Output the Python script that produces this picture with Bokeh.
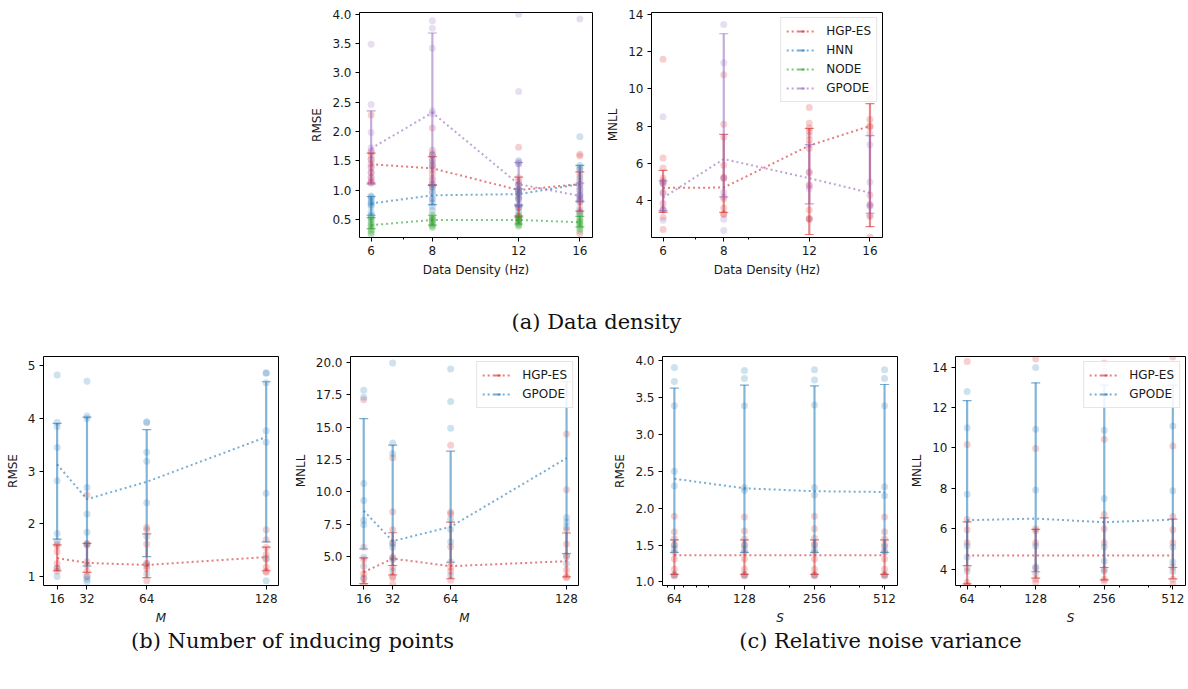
import numpy as np
from bokeh.plotting import figure
from bokeh.models import (Range1d, FixedTicker, PrintfTickFormatter, Whisker, TeeHead,
                          ColumnDataSource, Legend, LegendItem, Label, Spacer)
from bokeh.layouts import row, column
from bokeh.embed import file_html
from bokeh.resources import INLINE

RED = "#d62728"
BLUE = "#1f77b4"
GREEN = "#2ca02c"
PURPLE = "#9467bd"

# ---------------- x categories ----------------
density = [6, 8, 12, 16]
inducing = [16, 32, 64, 128]
samples = [64, 128, 256, 512]

# ---------------- (a) data density : RMSE ----------------
a_rmse_hgp_mean = [1.44, 1.37, 1.00, 1.10]
a_rmse_hgp_lo = [1.12, 1.09, 0.54, 0.64]
a_rmse_hgp_hi = [1.63, 1.57, 1.22, 1.31]
a_rmse_hgp_pts = [[2.28, 1.65, 1.60, 1.52, 1.45, 1.38, 1.30, 1.22, 1.15, 1.12],
                  [2.06, 1.68, 1.60, 1.50, 1.42, 1.35, 1.28, 1.17, 1.10, 1.05],
                  [1.73, 1.21, 1.15, 1.08, 1.00, 0.95, 0.85, 0.70, 0.55, 0.50],
                  [1.61, 1.58, 1.35, 1.25, 1.15, 1.05, 0.90, 0.80, 0.62, 0.26]]
a_rmse_hnn_mean = [0.77, 0.91, 0.93, 1.10]
a_rmse_hnn_lo = [0.57, 0.75, 0.73, 0.80]
a_rmse_hnn_hi = [0.89, 1.08, 1.02, 1.42]
a_rmse_hnn_pts = [[0.90, 0.88, 0.85, 0.80, 0.78, 0.75, 0.72, 0.62, 0.57, 0.52],
                  [1.60, 1.52, 1.40, 1.10, 1.05, 0.95, 0.85, 0.78, 0.72, 0.65],
                  [1.50, 1.45, 1.10, 1.00, 0.95, 0.90, 0.85, 0.75, 0.70, 0.62],
                  [1.91, 1.42, 1.38, 1.20, 1.10, 1.00, 0.92, 0.85, 0.65, 0.60]]
a_rmse_node_mean = [0.40, 0.49, 0.49, 0.45]
a_rmse_node_lo = [0.34, 0.40, 0.42, 0.37]
a_rmse_node_hi = [0.53, 0.57, 0.56, 0.55]
a_rmse_node_pts = [[0.55, 0.50, 0.46, 0.42, 0.40, 0.37, 0.33, 0.30, 0.27, 0.24],
                   [0.58, 0.55, 0.52, 0.50, 0.48, 0.46, 0.43, 0.40, 0.38, 0.36],
                   [0.58, 0.55, 0.52, 0.50, 0.48, 0.46, 0.44, 0.42, 0.40, 0.38],
                   [0.58, 0.53, 0.50, 0.47, 0.45, 0.43, 0.40, 0.37, 0.34, 0.30]]
a_rmse_gpode_mean = [1.71, 2.32, 1.10, 0.90]
a_rmse_gpode_lo = [1.10, 1.08, 0.75, 0.81]
a_rmse_gpode_hi = [2.35, 3.68, 1.47, 1.12]
a_rmse_gpode_pts = [[3.49, 2.46, 1.98, 1.72, 1.66, 1.52, 1.40, 1.30, 1.20, 1.12],
                    [3.89, 3.76, 3.42, 2.35, 2.30, 1.62, 1.45, 1.20, 0.98, 0.85],
                    [4.00, 2.68, 1.48, 1.45, 1.10, 1.00, 0.95, 0.85, 0.75, 0.70],
                    [3.92, 1.30, 1.10, 1.00, 0.95, 0.90, 0.85, 0.82, 0.80, 0.70]]

# ---------------- (a) data density : MNLL ----------------
a_mnll_hgp_mean = [4.68, 4.70, 6.95, 8.00]
a_mnll_hgp_lo = [3.37, 3.37, 2.18, 2.60]
a_mnll_hgp_hi = [5.62, 7.55, 7.87, 9.20]
a_mnll_hgp_pts = [[11.58, 6.28, 5.75, 5.20, 5.00, 4.90, 4.40, 3.85, 3.50, 3.10, 2.45],
                  [10.75, 8.10, 7.40, 5.90, 5.25, 5.20, 4.10, 3.60, 3.30, 3.25],
                  [9.00, 8.15, 7.90, 7.70, 7.25, 6.80, 5.50, 4.80, 3.50, 3.05, 3.00],
                  [10.00, 9.50, 8.35, 8.00, 7.95, 4.30, 3.75, 3.20, 2.05]]
a_mnll_gpode_mean = [4.15, 6.23, 5.20, 4.42]
a_mnll_gpode_lo = [3.46, 4.20, 3.82, 3.32]
a_mnll_gpode_hi = [5.06, 12.95, 7.00, 7.48]
a_mnll_gpode_pts = [[8.50, 5.05, 4.95, 4.45, 3.55, 3.50, 2.95],
                    [13.45, 11.40, 5.20, 4.45, 4.20, 3.00, 2.40],
                    [7.50, 7.00, 5.55, 4.85, 4.65, 3.00],
                    [7.60, 7.00, 5.00, 3.80, 3.70, 3.15]]

# ---------------- (b) inducing points : RMSE ----------------
b_rmse_hgp_mean = [1.35, 1.26, 1.22, 1.37]
b_rmse_hgp_lo = [1.11, 1.08, 0.98, 1.11]
b_rmse_hgp_hi = [1.60, 1.63, 1.81, 1.56]
b_rmse_hgp_pts = [[1.62, 1.58, 1.47, 1.25, 1.16, 1.10],
                  [2.55, 1.63, 1.60, 1.28, 1.22, 1.10, 1.00],
                  [1.93, 1.89, 1.62, 1.25, 1.20, 1.15, 0.92],
                  [1.89, 1.70, 1.55, 1.42, 1.33, 1.18, 1.10, 1.08]]
b_rmse_gpode_mean = [3.13, 2.47, 2.80, 3.65]
b_rmse_gpode_lo = [1.71, 1.20, 1.38, 1.66]
b_rmse_gpode_hi = [3.91, 4.03, 3.79, 4.70]
b_rmse_gpode_pts = [[4.83, 3.93, 3.85, 3.45, 2.82, 1.82, 1.67, 1.16, 1.00],
                    [4.71, 4.05, 4.00, 2.69, 2.19, 1.84, 1.62, 1.00, 0.90, 0.95],
                    [3.94, 3.92, 3.36, 3.19, 2.40, 1.76, 1.25, 1.05],
                    [4.87, 4.86, 4.68, 3.77, 3.55, 2.58, 1.35, 0.92]]

# ---------------- (b) inducing points : MNLL ----------------
b_mnll_hgp_mean = [3.83, 4.87, 4.29, 4.67]
b_mnll_hgp_lo = [2.95, 3.62, 3.32, 3.47]
b_mnll_hgp_hi = [4.92, 6.86, 7.68, 6.84]
b_mnll_hgp_pts = [[17.10, 5.75, 4.80, 3.70, 3.32, 2.90],
                  [12.63, 8.47, 7.10, 6.10, 5.00, 4.80, 4.20, 3.50, 3.40, 2.90],
                  [13.60, 8.44, 8.30, 5.79, 4.60, 4.20, 3.90, 3.20],
                  [14.46, 10.18, 7.10, 6.00, 5.10, 4.00, 3.50, 3.40]]
b_mnll_gpode_mean = [8.55, 6.22, 7.32, 12.60]
b_mnll_gpode_lo = [5.61, 4.34, 4.59, 5.25]
b_mnll_gpode_hi = [15.64, 13.60, 13.14, 18.50]
b_mnll_gpode_pts = [[17.83, 17.30, 10.66, 9.34, 7.83, 7.47, 5.00, 4.29, 3.37],
                    [19.92, 13.78, 12.96, 6.02, 5.75, 4.90, 3.90],
                    [19.46, 16.96, 14.90, 7.91, 7.14, 6.17, 3.57],
                    [17.60, 8.04, 7.68, 7.30, 5.00, 4.50]]

# ---------------- (c) relative noise variance : RMSE ----------------
c_rmse_hgp_mean = [1.36, 1.36, 1.36, 1.36]
c_rmse_hgp_lo = [1.10, 1.10, 1.10, 1.10]
c_rmse_hgp_hi = [1.57, 1.57, 1.57, 1.57]
c_rmse_hgp_pts = [[1.89, 1.68, 1.58, 1.50, 1.40, 1.31, 1.17, 1.10, 1.08],
                  [1.88, 1.69, 1.58, 1.50, 1.40, 1.31, 1.17, 1.10, 1.08],
                  [1.89, 1.72, 1.59, 1.51, 1.40, 1.31, 1.17, 1.10, 1.08],
                  [1.88, 1.68, 1.58, 1.50, 1.40, 1.31, 1.17, 1.10, 1.08]]
c_rmse_gpode_mean = [2.40, 2.27, 2.23, 2.22]
c_rmse_gpode_lo = [1.40, 1.40, 1.40, 1.40]
c_rmse_gpode_hi = [3.63, 3.67, 3.66, 3.68]
c_rmse_gpode_pts = [[3.91, 3.72, 3.39, 2.50, 2.30, 1.50, 1.45, 1.09],
                    [3.87, 3.76, 3.39, 2.28, 2.24, 1.50, 1.44, 1.09],
                    [3.88, 3.74, 3.40, 2.28, 2.18, 1.50, 1.44, 1.09],
                    [3.88, 3.76, 3.39, 2.29, 2.17, 1.48, 1.42, 1.09]]

# ---------------- (c) relative noise variance : MNLL ----------------
c_mnll_hgp_mean = [4.67, 4.67, 4.67, 4.67]
c_mnll_hgp_lo = [3.27, 3.55, 3.47, 3.52]
c_mnll_hgp_hi = [6.34, 5.97, 6.54, 6.47]
c_mnll_hgp_pts = [[14.27, 10.17, 6.45, 5.95, 5.30, 4.05, 3.35, 3.20],
                  [14.40, 9.97, 6.00, 5.90, 5.30, 4.05, 3.50, 3.35],
                  [14.20, 10.42, 6.70, 6.00, 5.30, 4.00, 3.50, 3.40],
                  [14.50, 10.09, 6.60, 5.95, 5.30, 4.10, 3.50, 3.25]]
c_mnll_gpode_mean = [6.42, 6.50, 6.32, 6.45]
c_mnll_gpode_lo = [4.17, 3.87, 4.08, 4.08]
c_mnll_gpode_hi = [12.34, 13.22, 13.10, 13.10]
c_mnll_gpode_pts = [[12.79, 11.00, 7.71, 5.15, 4.60, 3.90],
                    [13.97, 10.92, 7.91, 5.15, 4.10, 3.80],
                    [13.80, 10.87, 7.50, 5.10, 4.40, 3.90],
                    [13.70, 11.08, 7.88, 5.10, 4.35, 3.90]]

# ---------------- tick labels ----------------
a_rmse_yticks = [0.5, 1.0, 1.5, 2.0, 2.5, 3.0, 3.5, 4.0]
a_mnll_yticks = [4, 6, 8, 10, 12, 14]
b_rmse_yticks = [1, 2, 3, 4, 5]
b_mnll_yticks = [5.0, 7.5, 10.0, 12.5, 15.0, 17.5, 20.0]
c_rmse_yticks = [1.0, 1.5, 2.0, 2.5, 3.0, 3.5, 4.0]
c_mnll_yticks = [4, 6, 8, 10, 12, 14]
density_minor = [7, 9]
samples_minor = [60, 70, 80, 90, 200, 300, 400, 500]

FONT = "DejaVu Sans"


def make_fig(width, height, bl, br, bt, bb, xr, yr, xlog, xticks, xminor, xfmt,
             yticks, yfmt, xlabel, ylabel, xitalic=False):
    p = figure(width=width, height=height, x_axis_type="log" if xlog else "linear",
               x_range=Range1d(*xr), y_range=Range1d(*yr),
               output_backend="svg", toolbar_location=None,
               min_border_left=bl, min_border_right=br,
               min_border_top=bt, min_border_bottom=bb)
    p.grid.visible = False
    p.outline_line_color = "black"
    p.outline_line_width = 1
    p.outline_line_alpha = 1
    p.background_fill_color = "white"
    p.border_fill_color = "white"
    p.xaxis.ticker = FixedTicker(ticks=xticks, minor_ticks=xminor)
    p.yaxis.ticker = FixedTicker(ticks=yticks, minor_ticks=[])
    p.xaxis.formatter = PrintfTickFormatter(format=xfmt)
    p.yaxis.formatter = PrintfTickFormatter(format=yfmt)
    for ax in (p.xaxis[0], p.yaxis[0]):
        ax.axis_line_color = None
        ax.major_tick_out = 4
        ax.major_tick_in = 0
        ax.minor_tick_out = 2
        ax.minor_tick_in = 0
        ax.major_tick_line_color = "black"
        ax.minor_tick_line_color = "black"
        ax.major_label_text_font = FONT
        ax.major_label_text_font_size = "12px"
        ax.major_label_text_color = "#1a1a1a"
        ax.major_label_standoff = 4
        ax.axis_label_text_font = FONT
        ax.axis_label_text_font_size = "12px"
        ax.axis_label_text_color = "#1a1a1a"
        ax.axis_label_standoff = 5
        ax.axis_label_text_font_style = "normal"
    p.xaxis.axis_label = xlabel
    p.yaxis.axis_label = ylabel
    if xitalic:
        p.xaxis.axis_label_text_font_style = "italic"
    return p


def draw_series(p, xs, pts, mean, lo, hi, color):
    px = [x for x, vals in zip(xs, pts) for _ in vals]
    py = [v for vals in pts for v in vals]
    p.scatter(px, py, size=7, fill_color=color, fill_alpha=0.22, line_color=None)
    src = ColumnDataSource(dict(x=xs, lo=lo, hi=hi))
    w = Whisker(source=src, base="x", lower="lo", upper="hi", dimension="height",
                line_color=color, line_alpha=0.55, line_width=2.2, level="glyph",
                upper_head=TeeHead(size=9, line_color=color, line_alpha=0.6, line_width=1.2),
                lower_head=TeeHead(size=9, line_color=color, line_alpha=0.6, line_width=1.2))
    p.add_layout(w)
    ln = p.line(xs, mean, line_color=color, line_dash="2 3", line_width=2, line_alpha=0.6)
    return ln


def legend_icon(p, color):
    return p.scatter([np.nan], [np.nan], marker="dash", angle=np.pi / 2, size=14,
                     line_color=color, line_alpha=0.6, line_width=2)


def add_legend(p, entries):
    items = []
    for label, ln, color in entries:
        icon = legend_icon(p, color)
        items.append(LegendItem(label=label, renderers=[ln, icon]))
    lg = Legend(items=items, location="top_right")
    lg.label_text_font = FONT
    lg.label_text_font_size = "12px"
    lg.label_text_color = "#1a1a1a"
    lg.glyph_width = 30
    lg.glyph_height = 16
    lg.label_height = 16
    lg.spacing = 3
    lg.padding = 5
    lg.margin = 5
    lg.label_standoff = 10
    lg.border_line_color = "#cccccc"
    lg.border_line_width = 1
    lg.background_fill_alpha = 0.85
    p.add_layout(lg)


# ---------------- row 1 : (a) ----------------
fa1 = make_fig(299, 283, 55, 11, 12, 46, (5.68, 16.98), (0.19, 4.03), True,
               density, density_minor, "%d", a_rmse_yticks, "%.1f",
               "Data Density (Hz)", "RMSE")
draw_series(fa1, density, a_rmse_hgp_pts, a_rmse_hgp_mean, a_rmse_hgp_lo, a_rmse_hgp_hi, RED)
draw_series(fa1, density, a_rmse_hnn_pts, a_rmse_hnn_mean, a_rmse_hnn_lo, a_rmse_hnn_hi, BLUE)
draw_series(fa1, density, a_rmse_node_pts, a_rmse_node_mean, a_rmse_node_lo, a_rmse_node_hi, GREEN)
draw_series(fa1, density, a_rmse_gpode_pts, a_rmse_gpode_mean, a_rmse_gpode_lo, a_rmse_gpode_hi, PURPLE)

fa2 = make_fig(287, 283, 45, 8, 12, 46, (5.68, 16.98), (2.02, 14.09), True,
               density, density_minor, "%d", a_mnll_yticks, "%d",
               "Data Density (Hz)", "MNLL")
l_h = draw_series(fa2, density, a_mnll_hgp_pts, a_mnll_hgp_mean, a_mnll_hgp_lo, a_mnll_hgp_hi, RED)
l_n = fa2.line([np.nan], [np.nan], line_color=BLUE, line_dash="2 3", line_width=2, line_alpha=0.6)
l_o = fa2.line([np.nan], [np.nan], line_color=GREEN, line_dash="2 3", line_width=2, line_alpha=0.6)
l_g = draw_series(fa2, density, a_mnll_gpode_pts, a_mnll_gpode_mean, a_mnll_gpode_lo, a_mnll_gpode_hi, PURPLE)
add_legend(fa2, [("HGP-ES", l_h, RED), ("HNN", l_n, BLUE), ("NODE", l_o, GREEN), ("GPODE", l_g, PURPLE)])

row1 = row(Spacer(width=304, height=283), fa1, fa2)


def caption_fig(width, height, labels):
    p = figure(width=width, height=height, x_range=Range1d(0, width), y_range=Range1d(0, height),
               output_backend="svg", toolbar_location=None,
               x_axis_location=None, y_axis_location=None,
               min_border=0)
    p.grid.visible = False
    p.outline_line_color = None
    for text, x, y in labels:
        p.add_layout(Label(x=x, y=y, x_units="screen", y_units="screen", text=text,
                           text_font="DejaVu Serif", text_font_size="21px",
                           text_align="center", text_baseline="middle", text_color="#111111"))
    return p


cap_a = caption_fig(1180, 65, [("(a) Data density", 596, 27)])

# ---------------- row 2 : (b) and (c) ----------------
fb1 = make_fig(290, 279, 43, 12, 8, 41, (8.7, 134.6), (0.83, 5.18), False,
               inducing, [], "%d", b_rmse_yticks, "%d", "M", "RMSE", xitalic=True)
draw_series(fb1, inducing, b_rmse_hgp_pts, b_rmse_hgp_mean, b_rmse_hgp_lo, b_rmse_hgp_hi, RED)
draw_series(fb1, inducing, b_rmse_gpode_pts, b_rmse_gpode_mean, b_rmse_gpode_lo, b_rmse_gpode_hi, BLUE)

fb2 = make_fig(318, 279, 54, 30, 8, 41, (8.7, 134.6), (2.80, 20.43), False,
               inducing, [], "%d", b_mnll_yticks, "%.1f", "M", "MNLL", xitalic=True)
lb_h = draw_series(fb2, inducing, b_mnll_hgp_pts, b_mnll_hgp_mean, b_mnll_hgp_lo, b_mnll_hgp_hi, RED)
lb_g = draw_series(fb2, inducing, b_mnll_gpode_pts, b_mnll_gpode_mean, b_mnll_gpode_lo, b_mnll_gpode_hi, BLUE)
add_legend(fb2, [("HGP-ES", lb_h, RED), ("GPODE", lb_g, BLUE)])

fc1 = make_fig(299, 279, 54, 10, 8, 41, (56.9, 582.0), (0.95, 4.06), True,
               samples, samples_minor, "%d", c_rmse_yticks, "%.1f", "S", "RMSE", xitalic=True)
draw_series(fc1, samples, c_rmse_hgp_pts, c_rmse_hgp_mean, c_rmse_hgp_lo, c_rmse_hgp_hi, RED)
draw_series(fc1, samples, c_rmse_gpode_pts, c_rmse_gpode_mean, c_rmse_gpode_lo, c_rmse_gpode_hi, BLUE)

fc2 = make_fig(280, 279, 45, 2, 8, 41, (56.9, 582.0), (3.19, 14.52), True,
               samples, samples_minor, "%d", c_mnll_yticks, "%d", "S", "MNLL", xitalic=True)
lc_h = draw_series(fc2, samples, c_mnll_hgp_pts, c_mnll_hgp_mean, c_mnll_hgp_lo, c_mnll_hgp_hi, RED)
lc_g = draw_series(fc2, samples, c_mnll_gpode_pts, c_mnll_gpode_mean, c_mnll_gpode_lo, c_mnll_gpode_hi, BLUE)
add_legend(fc2, [("HGP-ES", lc_h, RED), ("GPODE", lc_g, BLUE)])

row2 = row(fb1, fb2, fc1, fc2)

cap_bc = caption_fig(1180, 56, [("(b) Number of inducing points", 292, 43),
                                ("(c) Relative noise variance", 880, 43)])

layout = column(row1, cap_a, row2, cap_bc)

open("out.html", "w").write(file_html(layout, INLINE))
